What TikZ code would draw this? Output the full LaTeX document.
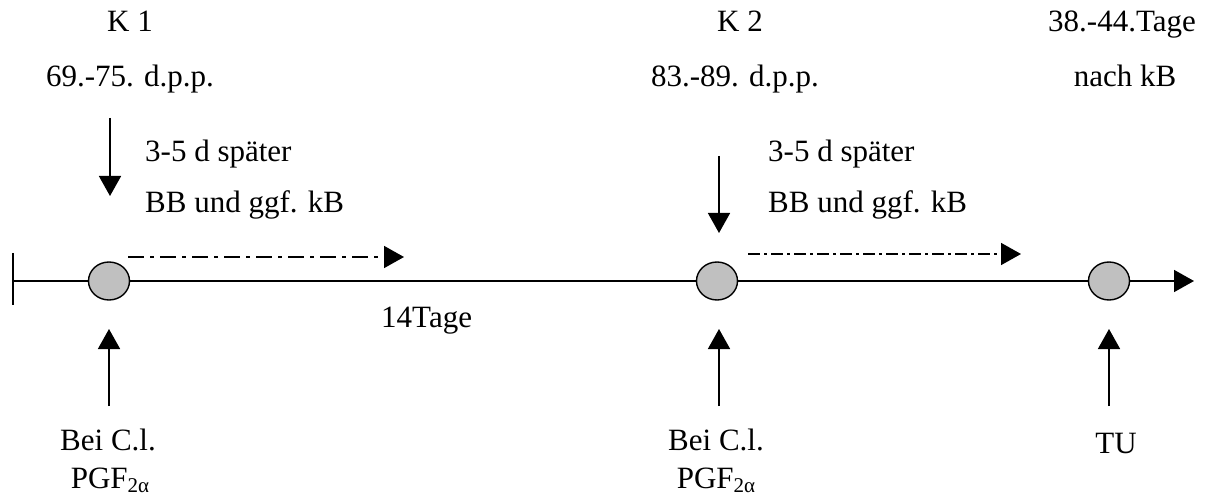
\documentclass[tikz,border=0pt]{standalone}
\usepackage{fontspec}
\setmainfont{Liberation Serif}
\usetikzlibrary{arrows.meta,shapes.geometric}

\tikzset{
  every node/.style={font=\fontsize{31}{36}\selectfont, inner sep=0pt},
  lbl/.style={anchor=base},
  lblw/.style={anchor=base west},
  stage/.style={ellipse, draw, line width=1.4pt, fill={rgb,255:red,192;green,192;blue,192},
                minimum width=41pt, minimum height=38pt, inner sep=0pt},
  tip/.style={-{Triangle[length=20pt,width=22pt]}},
  axis/.style={line width=1.6pt},
  mark arrow/.style={line width=1.6pt, tip},
  ddot1/.style={line width=1.6pt, tip, dash pattern=on 16pt off 6pt on 4pt off 6pt},
  ddot2/.style={line width=1.6pt, tip, dash pattern=on 12pt off 4pt on 3pt off 4pt}
}
\newcommand{\pgfsub}{PGF\raisebox{-4pt}{\fontsize{21}{24}\selectfont 2α}}

\begin{document}
\begin{tikzpicture}[x=1pt,y=-1pt]
\useasboundingbox (0,0) rectangle (1208,497);

% time axis with the three examination dates
\node[stage] (c1) at (109,281) {};
\node[stage] (c2) at (717,281) {};
\node[stage] (c3) at (1109,281) {};
\coordinate (start) at (13,281);
\coordinate (end) at (1194,281);
\draw[axis] (13,253) -- (13,305);
\draw[axis, tip] (start) -- (c1) -- (c2) -- (c3) -- (end);

% labels above the axis
\node[lbl] (k1) at (130,32) {K 1};
\node[lbl] (d1) at (130,87) {69.-75. d.p.p.};
\node[lbl] (k2) at (740,32) {K 2};
\node[lbl] (d2) at (735,87) {83.-89. d.p.p.};
\node[lbl] (t3) at (1122,32) {38.-44.Tage};
\node[lbl] (n3) at (1125,87) {nach kB};

% follow-up hints
\node[lblw] (s1) at (145,162) {3-5 d später};
\node[lblw] (b1) at (145,213) {BB und ggf. kB};
\node[lblw] (s2) at (768,162) {3-5 d später};
\node[lblw] (b2) at (768,213) {BB und ggf. kB};
\node[lblw] (int) at (381,327) {14Tage};

% downward arrows
\coordinate (da1) at (110,118);
\coordinate (db1) at (110,196);
\coordinate (da2) at (719,156);
\coordinate (db2) at (719,233);
\draw[mark arrow] (da1) -- (db1);
\draw[mark arrow] (da2) -- (db2);

% dash-dotted interval arrows
\coordinate (ia1) at (128,257);
\coordinate (ib1) at (404,257);
\coordinate (ia2) at (748,254);
\coordinate (ib2) at (1021,254);
\draw[ddot1] (ia1) -- (ib1);
\draw[ddot2] (ia2) -- (ib2);

% upward arrows and treatment labels
\coordinate (ua1) at (109,406);
\coordinate (ub1) at (109,329);
\coordinate (ua2) at (719,406);
\coordinate (ub2) at (719,329);
\coordinate (ua3) at (1109,406);
\coordinate (ub3) at (1109,329);
\draw[mark arrow] (ua1) -- (ub1);
\draw[mark arrow] (ua2) -- (ub2);
\draw[mark arrow] (ua3) -- (ub3);

\node[lbl] (bc1) at (108,450) {Bei C.l.};
\node[lbl] (pg1) at (110,488) {\pgfsub};
\node[lbl] (bc2) at (716,450) {Bei C.l.};
\node[lbl] (pg2) at (716,488) {\pgfsub};
\node[lbl] (tu) at (1116,453) {TU};
\end{tikzpicture}
\end{document}
